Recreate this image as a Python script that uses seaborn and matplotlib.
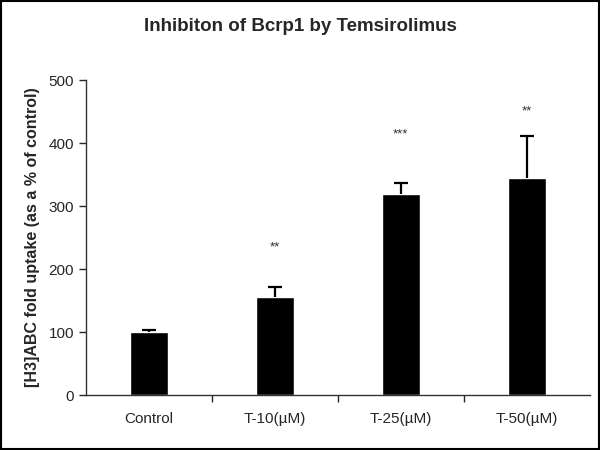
import numpy as np
import pandas as pd
import matplotlib
matplotlib.use('Agg')
import matplotlib.pyplot as plt
import seaborn as sns

groups = ['Control', 'T-10(\u00b5M)', 'T-25(\u00b5M)', 'T-50(\u00b5M)']
uptake = [100, 156, 320, 344]
sem = [4, 15, 17, 67]
stars = ['', '**', '***', '**']
star_y = [0, 235, 414, 450]

df = pd.DataFrame({'group': groups, 'uptake': uptake})

sns.set_theme(style='ticks')
plt.rcParams['font.family'] = ['Liberation Sans', 'DejaVu Sans']

fig = plt.figure(figsize=(6, 4.5), dpi=100)
ax = fig.add_axes([0.143, 0.122, 0.84, 0.7])

sns.barplot(data=df, x='group', y='uptake', color='black', width=0.3,
            errorbar=None, ax=ax, saturation=1)
_, caps, _ = ax.errorbar(np.arange(len(groups)), uptake, yerr=[np.zeros(len(sem)), sem],
                         fmt='none', ecolor='black', elinewidth=1.6, capsize=5, capthick=1.6)
caps[0].set_visible(False)  # only the upper half of the error bar

for i, s in enumerate(stars):
    if s:
        ax.text(i, star_y[i], s, ha='center', va='center', fontsize=9.5, color='#333333')

ax.set_xlim(-0.5, 3.5)
ax.set_ylim(0, 500)
ax.set_yticks([0, 100, 200, 300, 400, 500])
ax.set_xticks([0.5, 1.5, 2.5], minor=True)
ax.tick_params(axis='x', which='major', length=0, pad=12, labelsize=11)
ax.tick_params(axis='x', which='minor', length=5, width=1, direction='out')
ax.tick_params(axis='y', length=5, width=1, direction='out', labelsize=11)
for sp in ['top', 'right']:
    ax.spines[sp].set_visible(False)
for sp in ['left', 'bottom']:
    ax.spines[sp].set_color('#333333')
    ax.spines[sp].set_linewidth(1)

ax.set_xlabel('')
ax.set_ylabel('[H3]ABC fold uptake (as a % of control)', fontsize=11.5, fontweight='bold', labelpad=6)
fig.suptitle('Inhibiton of Bcrp1 by Temsirolimus', fontsize=13.5, fontweight='bold', y=0.96)

fig.patches.append(plt.Rectangle((0.002, 0.002), 0.996, 0.996, transform=fig.transFigure,
                                 fill=False, edgecolor='black', linewidth=1.5))

fig.savefig('out.png', dpi=100)
